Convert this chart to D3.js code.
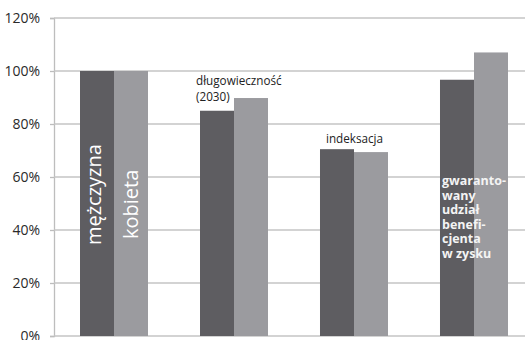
<!DOCTYPE html>
<html><head><meta charset="utf-8">
<script src="https://cdn.jsdelivr.net/npm/d3@7"></script>
<style>body{margin:0;background:#fff;} svg{display:block;}</style>
</head><body>
<svg id="c" width="525" height="340"></svg>
<script>
const categories = ["mężczyzna/kobieta", "długowieczność (2030)", "indeksacja", "gwarantowany udział beneficjenta w zysku"];
const seriesNames = ["mężczyzna", "kobieta"];
const darkValues = [100, 85, 70.5, 96.7];
const lightValues = [100, 89.8, 69.4, 107.0];
const yTicks = [0, 20, 40, 60, 80, 100, 120];

const svg = d3.select("#c");
const FONT = "'Open Sans', sans-serif";
const mLeft = 54, mRight = 534, mTop = 18, mBottom = 336;

const x0 = d3.scaleBand().domain(categories).range([mLeft, mRight]).paddingInner(0.4333).paddingOuter(0.2167);
const x1 = d3.scaleBand().domain(seriesNames).range([0, x0.bandwidth()]);
const y = d3.scaleLinear().domain([0, 120]).range([mBottom, mTop]);

// gridlines + axis
const yAxis = d3.axisLeft(y).tickValues(yTicks).tickFormat(d => d + "%").tickSize(4).tickPadding(10);
const ga = svg.append("g").attr("transform", `translate(${mLeft},0)`).call(yAxis);
ga.select(".domain").attr("stroke", "#bdbdbd").attr("stroke-width", 1.3);
ga.selectAll(".tick line").attr("stroke", "#bdbdbd").attr("stroke-width", 1.3);
ga.selectAll(".tick text").attr("fill", "#2a2a2a").attr("font-family", FONT).attr("font-size", 14);
svg.append("g").selectAll("line").data(yTicks).join("line")
  .attr("x1", mLeft).attr("x2", 525)
  .attr("y1", d => y(d)).attr("y2", d => y(d))
  .attr("stroke", "#c4c4c4").attr("stroke-width", 1.3);

const colors = {"mężczyzna": "#5e5d61", "kobieta": "#9b9b9f"};
const rows = categories.map((c, i) => ({c, vals: [{s: "mężczyzna", v: darkValues[i]}, {s: "kobieta", v: lightValues[i]}]}));
const g = svg.append("g").selectAll("g").data(rows).join("g")
  .attr("transform", d => `translate(${x0(d.c)},0)`);
g.selectAll("rect").data(d => d.vals).join("rect")
  .attr("x", d => x1(d.s)).attr("width", x1.bandwidth())
  .attr("y", d => y(d.v)).attr("height", d => y(0) - y(d.v))
  .attr("fill", d => colors[d.s]);

// rotated labels in first group
const c0 = categories[0];
seriesNames.forEach((s, i) => {
  const bx = x0(c0) + x1(s) + (i === 0 ? 21 : 24);
  svg.append("text").attr("transform", `translate(${bx},${i === 0 ? 245 : 239}) rotate(-90)`)
    .attr("fill", "#fff").attr("font-family", FONT).attr("font-size", 20)
    .text(s);
});

// category labels
const c1 = categories[1];
svg.append("text").attr("x", x0(c1) - 4).attr("y", 85).attr("fill", "#222").attr("font-family", FONT).attr("font-size", 11.7)
  .selectAll("tspan").data(["długowieczność", "(2030)"]).join("tspan")
  .attr("x", x0(c1) - 4).attr("dy", (d, i) => i ? 16 : 0).text(d => d);
svg.append("text").attr("x", x0(categories[2]) + 6).attr("y", 143).attr("fill", "#222").attr("font-family", FONT).attr("font-size", 11.7)
  .text("indeksacja");
const c3 = categories[3];
svg.append("text").attr("y", 185).attr("fill", "#f4f4f4").attr("font-family", FONT).attr("font-size", 12.5).attr("font-weight", "bold")
  .selectAll("tspan").data(["gwaranto-", "wany", "udział", "benefi-", "cjenta", "w zysku"]).join("tspan")
  .attr("x", x0(c3) + 2).attr("dy", (d, i) => i ? 14.5 : 0).text(d => d);
</script>
</body></html>
